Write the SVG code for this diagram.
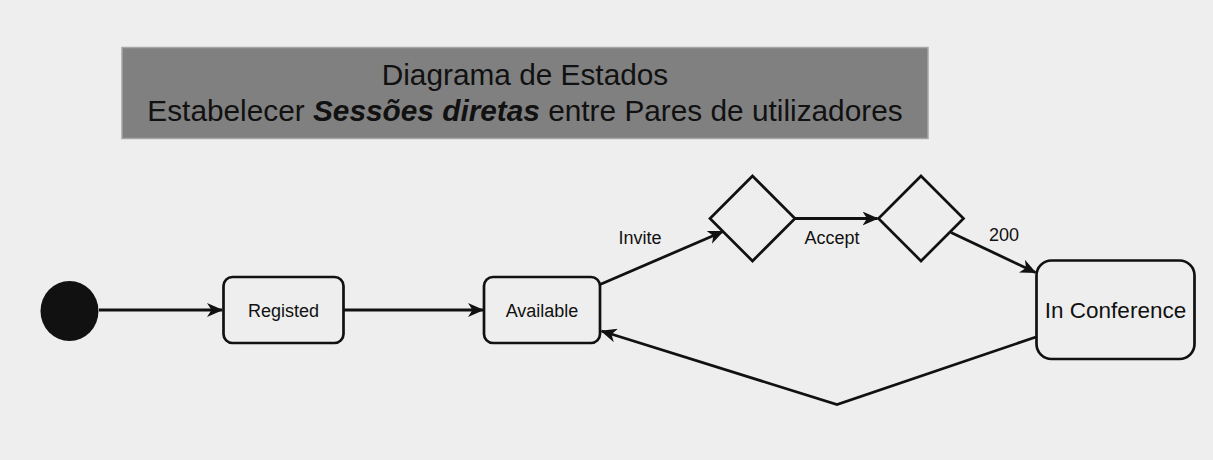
<svg xmlns="http://www.w3.org/2000/svg" width="1213" height="460" viewBox="0 0 1213 460">
<style>
text{font-family:"Liberation Sans",Arial,sans-serif;fill:#111;}
.node{fill:none;stroke:#111;stroke-width:2.7;}
.edge{fill:none;stroke:#111;stroke-width:2.8;}
.lbl{font-size:18px;text-anchor:middle;}
</style>
<defs>
<marker id="arr" viewBox="0 0 16 14" refX="15" refY="7" markerWidth="16" markerHeight="14" markerUnits="userSpaceOnUse" orient="auto">
<path d="M0,0 L16,7 L0,14 L4.5,7 Z" fill="#111"/>
</marker>
</defs>
<rect width="1213" height="460" fill="#eeeeee"/>
<g id="title">
<rect x="122" y="47.5" width="806" height="91" fill="#808080" stroke="#a6a6a6" stroke-width="1.5"/>
<text x="525" y="85" font-size="29.8" text-anchor="middle">Diagrama de Estados</text>
<text x="525" y="121" font-size="29.8" text-anchor="middle">Estabelecer <tspan font-weight="bold" font-style="italic">Sessões diretas</tspan> entre Pares de utilizadores</text>
</g>
<g id="start">
<ellipse cx="69.5" cy="311" rx="29" ry="30" fill="#111"/>
</g>
<g id="registed">
<rect class="node" x="223.5" y="277" width="120" height="66" rx="9"/>
<text class="lbl" x="283.5" y="316.5">Registed</text>
</g>
<g id="available">
<rect class="node" x="484" y="277" width="116" height="66" rx="9"/>
<text class="lbl" x="542" y="316.5">Available</text>
</g>
<g id="decision1">
<polygon class="node" points="752.5,176 795,218.5 752.5,261 710,218.5"/>
</g>
<g id="decision2">
<polygon class="node" points="921,176 963.5,218.5 921,261 878.5,218.5"/>
</g>
<g id="inconference">
<rect class="node" x="1036.5" y="260.5" width="158" height="98.5" rx="15"/>
<text x="1115.5" y="318" font-size="22.5" text-anchor="middle">In Conference</text>
</g>
<g id="connectors">
<path class="edge" d="M99,310 L222,310" marker-end="url(#arr)"/>
<path class="edge" d="M344,310 L483,310" marker-end="url(#arr)"/>
<path class="edge" d="M600,284.5 L723,231.5" marker-end="url(#arr)"/>
<path class="edge" d="M795,218.5 L877.5,218.5" marker-end="url(#arr)"/>
<path class="edge" d="M951,232.5 L1035.5,272.5" marker-end="url(#arr)"/>
<path class="edge" d="M1036,337 L837,404.5 L601.5,331" marker-end="url(#arr)"/>
<text class="lbl" x="640" y="244">Invite</text>
<text class="lbl" x="832" y="244">Accept</text>
<text class="lbl" x="1004" y="241">200</text>
</g>
</svg>
